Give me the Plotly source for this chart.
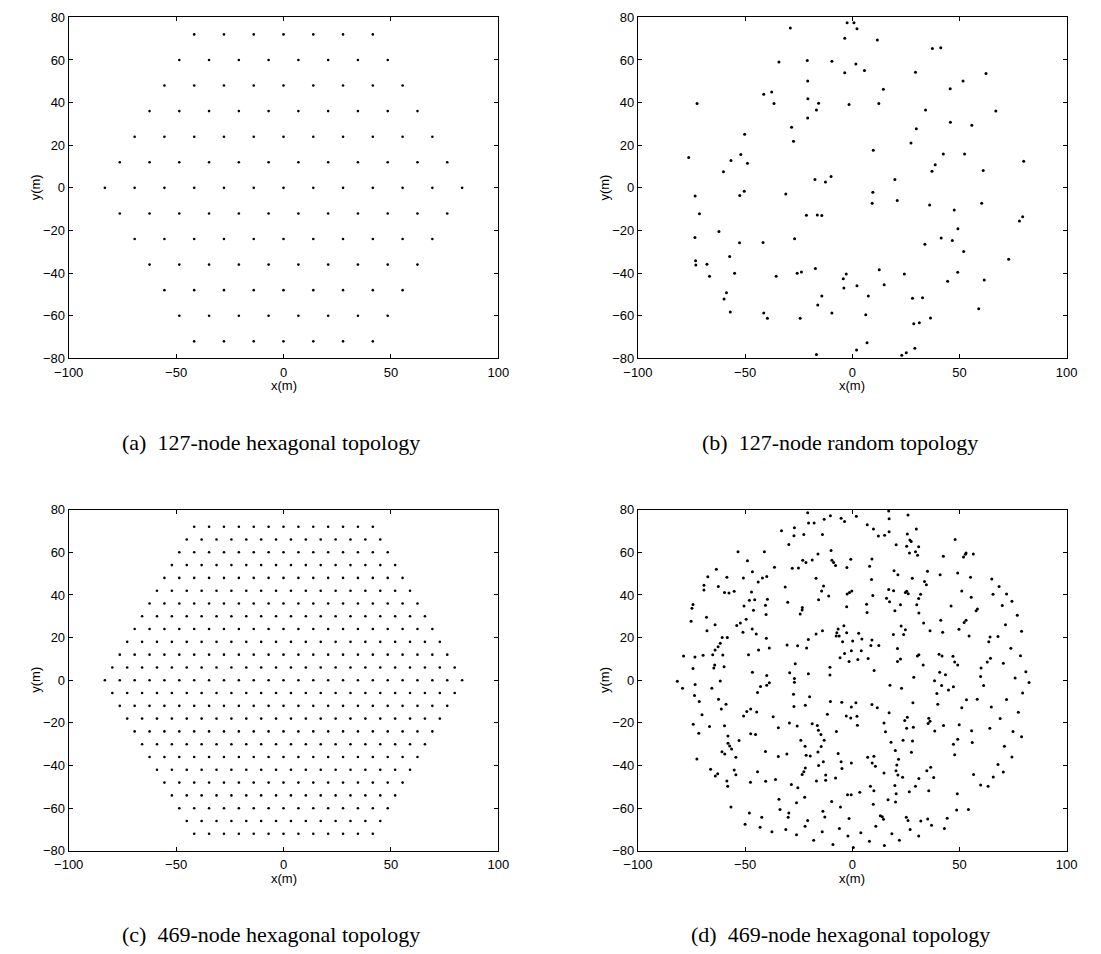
import plotly.graph_objects as go

# ---------------------------------------------------------------------------
# Node positions (metres)
# ---------------------------------------------------------------------------

# 127-node hexagonal lattice: row heights, nodes per row, node pitch along a row
HEX127_ROW_Y = [72, 60, 48, 36, 24, 12, 0, -12, -24, -36, -48, -60, -72]
HEX127_ROW_COUNT = [7, 8, 9, 10, 11, 12, 13, 12, 11, 10, 9, 8, 7]
HEX127_PITCH = 13.86

# 469-node hexagonal lattice
HEX469_ROW_Y = [72, 66, 60, 54, 48, 42, 36, 30, 24, 18, 12, 6, 0,
                -6, -12, -18, -24, -30, -36, -42, -48, -54, -60, -66, -72]
HEX469_ROW_COUNT = [13, 14, 15, 16, 17, 18, 19, 20, 21, 22, 23, 24, 25,
                    24, 23, 22, 21, 20, 19, 18, 17, 16, 15, 14, 13]
HEX469_PITCH = 6.93

# 127-node random deployment
RAND127_X = [
    -28.9, -34.2, -41.3, -37.6, -36.5, -72.4, -28.3, -27.4, -50.2, -76.3, -52.0, -56.6, -48.9, -60.1,
    -2.4, 0.8, 2.2, -3.5, 11.7, 37.4, 41.3, -21.0, -9.5, 1.7, -3.5, 5.7, 29.5, 62.4, 51.7, -20.8,
    45.7, 14.5, -20.7, -15.7, -1.5, 12.4, -16.7, 34.2, -20.8, 45.8, 55.8, 29.9, 27.4, 9.8, 42.5,
    52.4, 38.7, 37.2, 61.1, -17.4, -12.5, -9.9, 19.9,
    -73.3, -71.3, -73.4, -73.1, -73.0, -67.8, -66.6, -62.2, -57.2, -54.9, -52.6, -52.5, -50.4,
    -58.7, -59.8, -56.9, -41.6, -35.5, -31.0, -26.9, -41.3, -39.6,
    9.6, 9.3, 21.0, 36.1, 47.6, 60.4, -21.4, -16.3, -14.2, 49.3, 41.5, 46.7, 33.9, 52.0, -17.2,
    -25.7, -23.7, -2.8, -4.2, -3.9, 12.6, 24.3, 14.9, 2.2, 49.2, 44.5, 61.6, -14.2, -16.1, -9.5,
    -24.3, 7.5, 6.3, 28.1, 32.8, 59.0, 36.5, 28.7, 31.3, 6.9, 2.0, -16.7, 23.1, 25.2, 29.2,
    80.0, 78.0, 79.5, 73.0, 67.0,
]
RAND127_Y = [
    75.0, 59.0, 43.9, 45.0, 39.6, 39.6, 28.4, 21.9, 25.1, 14.2, 15.7, 12.8, 11.6, 7.6,
    77.4, 77.4, 74.7, 70.2, 69.4, 65.4, 65.7, 59.8, 59.4, 58.1, 54.0, 55.0, 54.2, 53.6, 50.1, 50.1,
    46.5, 46.3, 41.8, 39.7, 39.1, 39.6, 36.5, 36.5, 32.8, 30.8, 29.4, 27.7, 21.1, 17.6, 15.9,
    15.9, 10.8, 7.8, 8.1, 3.9, 2.7, 5.3, 3.9,
    -3.8, -12.2, -23.3, -34.2, -36.2, -35.8, -41.5, -20.5, -32.2, -40.1, -25.8, -3.6, -1.6,
    -49.2, -52.2, -58.2, -25.6, -41.5, -2.9, -23.9, -58.7, -61.2,
    -2.1, -7.2, -5.9, -8.1, -10.4, -7.2, -12.9, -12.7, -13.0, -19.2, -23.5, -24.7, -26.5, -29.8, -37.8,
    -40.1, -39.5, -40.4, -42.7, -47.0, -38.4, -40.4, -45.5, -45.9, -39.6, -43.8, -43.2, -50.7, -55.0, -58.7,
    -61.2, -50.7, -59.5, -51.8, -51.5, -56.7, -61.0, -63.8, -63.3, -72.7, -76.1, -78.2, -78.5, -77.3, -75.3,
    12.5, -15.5, -13.5, -33.5, 36.0,
]

# 469-node random deployment
RAND469_X = [
    -63.4, -67.4, -58.5, -69.2, -69.2, -62.5, -59.6, -57.5, -74.3, -74.8, -75.2, -68.0, -67.8, -64.0,
    -60.7, -58.3, -61.6, -62.6, -64.0,
    -20.8, -10.2, -5.2, -3.6, 1.9, -13.1, -20.4, -17.8, -27.0, -33.0, -27.2, -22.6, -13.9, -29.6,
    -53.3, -41.0, -16.0, -9.9, -48.9, -23.1, -21.6, -18.7, -9.5, -8.7, -7.8, -0.7, -2.5, -36.3,
    -28.0, -25.1, -46.6, -50.8, -41.9, -39.9, -43.9, -16.9, -31.3, -13.4, -14.3, -11.0, -0.2, -1.3,
    -2.4, -55.1, -47.0, -50.5, -48.0, -45.5, -46.1, -39.6, -40.5, -40.2, -30.1, -23.3, -23.4, -24.3,
    -15.7, -2.6, -49.5, -52.2, -53.9, -51.0, -46.7, -44.8, -40.1, -43.7, -38.7, -30.4, -25.5, -21.3,
    -20.5, -16.9, -13.9, -6.6, -7.2, -7.5, -6.1, -3.9, -2.6, -4.5, 0.2, 3.0, 4.5, -0.4, 4.2,
    17.0, 26.0, 17.2, 7.0, 9.9, 29.9, 12.2, 15.1, 17.2, 25.7, 26.9, 27.5, 48.0, 20.5, 25.4, 31.0,
    29.5, 26.7, 30.5, 42.5, 53.1, 52.8, 51.9, 56.5, 9.2, 8.1, 19.5, 21.3, 35.1, 41.0, 49.2, 9.0,
    28.0, 33.7, 34.6, 55.2, 65.1, 17.0, 19.3, 24.8, 25.4, 26.1, 31.9, 51.1, 65.7, 9.6, 16.0, 17.4,
    31.0, 30.1, 55.5, 6.7, 22.5, 46.1, 58.4, 57.8, 6.9, 19.9, 31.1, 41.3, 53.1, 52.2, 33.3, 22.8,
    24.8, 36.3, 42.2, 49.8, 19.2, 24.0, 54.5, 9.2, 8.7, 12.4, 21.1, 64.3, 63.7,
    -78.7, -73.4, -69.6, -65.1, -60.4, -64.2, -64.6, -59.8, -74.3, -81.6, -79.2, -73.3, -61.6,
    -65.5, -73.6, -71.4, -62.4, -58.9, -61.1, -70.1, -74.2, -66.6, -59.6, -71.6, -58.0, -58.0,
    -57.2, -56.3, -60.8, -59.5, -72.5, -66.1, -62.8, -63.9, -58.5, -58.1, -56.6,
    -48.4, -5.7, -3.6, -1.5, 2.6, -26.6, -10.4, -46.6, -29.2, -20.5, -10.4, -39.9, -27.0, -27.0,
    -38.7, -39.9, -42.8, -44.2, -27.4, -19.9, -10.2, -4.9, 1.7, -0.4, -21.9, -27.2, -47.4, -49.2,
    -44.6, -50.7, -36.9, -11.6, -2.8, -0.7, 2.2, 2.4, -29.3, -25.7, -34.5, -18.7, -16.3, -15.8,
    -7.4, -14.6, -47.4, -45.1, -52.8, -24.0, -13.1, -22.0, -14.5, -40.5, -30.5, -34.5, -21.5,
    -19.6, -16.0, -6.6, -54.3, -13.5, -15.7, -5.2, -0.4, -4.8, -21.9, -22.6, -23.4, -55.1, -54.3,
    -44.2, -12.4, -7.8, -12.4, -16.7, -47.5, -40.4, -35.8, -28.4, -25.4, -2.2, -0.5, 3.5, -22.2,
    -34.2, -26.0, -9.6, -5.5, -33.7, -48.0, -29.6, -29.9, -42.2, -13.7, -12.8, -1.5, -20.8,
    7.4, 21.1, 22.5, 30.4, 31.1, 40.5, 41.9, 47.0, 64.5, 47.8, 49.2, 63.0, 33.1, 60.1, 10.2, 40.8,
    43.5, 28.7, 59.9, 38.4, 17.6, 23.0, 41.7, 47.2, 44.9, 61.3, 39.5, 53.3, 58.3, 28.3, 39.9, 9.2,
    11.7, 51.1, 64.9, 17.2, 25.7, 24.5, 35.7, 36.3, 35.4, 14.8, 25.4, 28.5, 42.6, 49.9, 38.5, 15.5,
    55.7, 64.2, 23.7, 28.1, 49.2, 47.2, 56.0, 18.1, 20.1, 27.6, 47.8, 7.2, 10.1, 21.6, 9.3, 10.8,
    20.8, 36.6, 34.8, 20.4, 21.3, 14.8, 23.5, 31.1, 38.0, 56.6, 65.8, 8.5, 10.1, 19.9, 29.5, 59.9,
    63.4, 20.5, 26.6, 35.7, 49.0, 16.7, 20.2, 9.8, 48.7, 54.2, 13.1, 14.0, 14.6, 25.2, 26.0, 35.2,
    44.3, 32.0,
    # eastern rim
    68.5, 72.0, 74.5, 70.0, 77.0, 71.5, 79.0, 68.0, 74.0, 78.5, 70.5, 81.0, 76.0, 82.5, 79.5, 72.0,
    77.5, 69.0, 75.0, 79.0, 71.0, 74.5, 68.0, 70.5,
    # southern rim
    -50.0, -43.0, -37.5, -31.0, -26.0, -22.0, -18.0, -14.0, -9.0, -6.0, -2.0, 0.5, 4.0, 8.0, 11.0,
    15.0, 18.5, 22.0, 27.0, 31.0, 37.0, 43.0,
]
RAND469_Y = [
    52.0, 48.5, 48.3, 44.6, 42.3, 44.0, 41.1, 40.9, 35.5, 33.8, 27.7, 29.5, 23.2, 26.0,
    20.0, 20.1, 17.4, 15.7, 14.2,
    78.6, 77.2, 76.0, 74.4, 76.9, 75.5, 73.8, 73.8, 71.5, 70.1, 67.8, 68.4, 68.3, 63.7,
    60.3, 60.3, 59.2, 60.9, 56.0, 56.3, 55.2, 56.4, 56.3, 55.2, 53.8, 56.8, 52.9, 53.0,
    52.5, 52.6, 50.9, 48.0, 48.0, 48.6, 46.1, 47.8, 43.7, 44.2, 41.8, 39.5, 41.8, 41.2,
    40.5, 41.7, 41.4, 34.8, 37.5, 37.7, 32.8, 38.0, 35.2, 30.8, 36.6, 34.1, 32.9, 31.1,
    37.7, 34.5, 28.6, 26.9, 25.7, 22.5, 24.0, 21.7, 19.7, 14.2, 15.1, 16.5, 16.2, 15.1,
    19.1, 21.7, 23.2, 24.0, 22.3, 20.8, 20.8, 25.5, 22.3, 18.1, 18.4, 22.0, 19.4, 13.8, 13.8,
    79.4, 77.5, 75.8, 72.9, 70.9, 70.9, 67.7, 68.0, 69.7, 68.6, 65.8, 65.1, 66.0, 63.5, 62.9, 62.6,
    60.3, 59.7, 58.6, 58.1, 59.7, 59.1, 57.8, 59.2, 56.9, 53.5, 51.4, 49.5, 51.1, 49.5, 50.3, 47.2,
    47.8, 46.3, 44.8, 48.3, 47.5, 42.6, 42.0, 41.1, 41.7, 40.6, 40.3, 41.8, 40.3, 39.7, 38.4, 36.8,
    38.3, 35.4, 38.9, 35.7, 35.4, 34.8, 33.4, 32.6, 31.8, 32.6, 31.5, 28.1, 28.1, 27.1, 26.8, 25.4,
    23.7, 23.2, 22.5, 23.9, 21.5, 21.4, 20.8, 18.9, 16.3, 16.3, 14.9, 20.3, 18.0,
    11.4, 10.9, 11.7, 12.0, 11.8, 7.2, 5.7, 6.3, 5.5, -0.5, -3.8, -2.0, -0.3,
    -3.8, -7.2, -10.0, -8.9, -11.2, -13.5, -16.2, -20.6, -21.7, -21.4, -24.9, -26.2, -29.5,
    -30.8, -32.2, -33.5, -34.6, -36.9, -41.7, -43.8, -44.9, -47.2, -49.7, -59.5,
    12.0, 10.6, 12.5, 8.8, 9.7, 7.7, 6.1, 3.8, 3.5, 3.1, 2.5, 2.2, 0.8, -0.9,
    -1.2, -2.3, -2.9, -5.7, -6.6, -7.7, -10.0, -10.3, -10.6, -12.6, -11.7, -12.3, -13.5, -14.6,
    -14.9, -16.8, -17.1, -16.0, -16.8, -17.7, -16.9, -21.1, -20.0, -21.5, -22.3, -20.4, -21.2, -23.5,
    -24.0, -25.4, -25.1, -25.4, -28.3, -28.2, -28.2, -30.9, -31.1, -33.4, -34.6, -35.8, -35.2,
    -35.5, -33.7, -34.3, -36.1, -38.2, -40.0, -38.2, -38.8, -41.4, -41.1, -42.9, -44.2, -42.1, -44.3,
    -42.9, -44.4, -45.8, -46.9, -47.2, -47.8, -47.4, -46.6, -48.9, -50.4, -53.7, -53.7, -52.5, -54.9,
    -55.8, -57.4, -56.9, -59.4, -60.6, -62.3, -62.3, -64.3, -64.3, -61.5, -64.1, -64.9, -65.8,
    10.2, 8.8, 10.0, 11.4, 12.0, 12.2, 11.4, 11.2, 10.3, 8.5, 7.2, 8.5, 7.1, 5.8, 4.6, 3.8,
    2.6, 1.4, 1.8, -0.2, -2.3, -3.8, -2.5, -3.1, -4.6, -2.5, -6.2, -9.2, -8.9, -10.6, -11.2, -11.4,
    -12.9, -12.9, -12.6, -15.2, -17.4, -18.9, -17.8, -19.2, -20.3, -20.0, -22.5, -22.0, -21.2, -20.9, -23.8, -24.1,
    -23.7, -22.5, -28.1, -28.5, -27.7, -30.0, -29.2, -29.1, -32.9, -33.8, -34.9, -36.1, -35.7, -37.1, -38.8, -40.3,
    -39.8, -40.8, -42.5, -42.5, -44.4, -43.5, -45.5, -46.1, -45.6, -44.2, -45.4, -49.7, -51.8, -49.4, -49.7, -49.1,
    -49.7, -53.2, -52.3, -51.8, -53.2, -56.1, -57.1, -58.1, -60.9, -60.6, -63.5, -64.0, -65.2, -64.3, -65.8, -65.1,
    -64.7, -66.0,
    # eastern rim
    44.0, 40.5, 37.0, 35.0, 30.5, 26.0, 23.0, 20.5, 15.0, 11.5, 8.0, 4.0, 1.0, -1.0, -6.0, -9.0,
    -15.0, -18.0, -24.0, -26.5, -31.0, -36.0, -39.5, -43.0,
    # southern rim
    -67.5, -69.0, -71.0, -70.0, -72.5, -68.5, -75.0, -71.0, -77.0, -69.5, -73.0, -78.5, -71.5, -75.5,
    -68.5, -77.5, -72.0, -75.0, -70.0, -73.0, -68.0, -69.5,
]

CAPTIONS = [
    "(a)  127-node hexagonal topology",
    "(b)  127-node random topology",
    "(c)  469-node hexagonal topology",
    "(d)  469-node hexagonal topology",
]


def hex_lattice(rows_y, counts, pitch):
    xs, ys = [], []
    for y, n in zip(rows_y, counts):
        for k in range(n):
            xs.append((k - (n - 1) / 2) * pitch)
            ys.append(y)
    return xs, ys


hex127_x, hex127_y = hex_lattice(HEX127_ROW_Y, HEX127_ROW_COUNT, HEX127_PITCH)
hex469_x, hex469_y = hex_lattice(HEX469_ROW_Y, HEX469_ROW_COUNT, HEX469_PITCH)

# ---------------------------------------------------------------------------
# Page geometry (pixels)
# ---------------------------------------------------------------------------
W, H = 1101, 954
COL_LEFT = [55, 638]
COL_RIGHT = [495, 1077]
ROW_TOP = [10.5, 510.7]
ROW_BOTTOM = [357.0, 857.3]

fig = go.Figure()

series = [
    (hex127_x, hex127_y, 2.6),
    (RAND127_X, RAND127_Y, 3.0),
    (hex469_x, hex469_y, 2.6),
    (RAND469_X, RAND469_Y, 3.0),
]

tick_font = dict(family="Liberation Sans, Arial, sans-serif", size=13, color="black")
axis_common = dict(
    showline=True, linecolor="black", linewidth=1, mirror="ticks",
    ticks="inside", ticklen=4, tickwidth=1, tickcolor="black",
    showgrid=False, zeroline=False, tickfont=tick_font,
)

annotations = []
for i, (xs, ys, msize) in enumerate(series):
    r, c = divmod(i, 2)
    n = i + 1
    xa = "x" if n == 1 else f"x{n}"
    ya = "y" if n == 1 else f"y{n}"
    fig.add_trace(go.Scatter(
        x=xs, y=ys, mode="markers", xaxis=xa, yaxis=ya,
        marker=dict(size=msize, color="black", line=dict(width=0)),
        showlegend=False, hoverinfo="skip",
    ))
    x0, x1 = COL_LEFT[c] / W, COL_RIGHT[c] / W
    y0, y1 = 1 - ROW_BOTTOM[r] / H, 1 - ROW_TOP[r] / H
    fig.update_layout(**{
        ("xaxis" if n == 1 else f"xaxis{n}"): dict(
            domain=[x0, x1], anchor=ya, range=[-100, 100], tickvals=[-100, -50, 0, 50, 100],
            ticklabelstandoff=2, **axis_common),
        ("yaxis" if n == 1 else f"yaxis{n}"): dict(
            domain=[y0, y1], anchor=xa, range=[-80, 80], tickvals=list(range(-80, 81, 20)),
            **axis_common),
    })
    xmid = (COL_LEFT[c] + COL_RIGHT[c]) / 2
    # axis titles
    annotations.append(dict(
        text="x(m)", x=xmid / W, y=1 - (ROW_BOTTOM[r] + 28) / H, xref="paper", yref="paper",
        showarrow=False, xanchor="center", yanchor="middle", font=tick_font))
    annotations.append(dict(
        text="y(m)", x=(COL_LEFT[c] - 34) / W, y=1 - (ROW_TOP[r] + ROW_BOTTOM[r]) / 2 / H,
        xref="paper", yref="paper", showarrow=False, textangle=-90,
        xanchor="center", yanchor="middle", font=tick_font))
    # sub-figure caption
    annotations.append(dict(
        text=CAPTIONS[i], x=(xmid - 12.5) / W, y=1 - (ROW_BOTTOM[r] + 85) / H,
        xref="paper", yref="paper", showarrow=False, xanchor="center", yanchor="middle",
        font=dict(family="Liberation Serif, Times New Roman, serif", size=22, color="black")))

fig.update_layout(
    width=W, height=H, margin=dict(l=0, r=0, t=0, b=0),
    paper_bgcolor="white", plot_bgcolor="white",
    annotations=annotations,
)

fig.write_html("out.html", include_plotlyjs=True, full_html=True,
               config={"displayModeBar": False})
